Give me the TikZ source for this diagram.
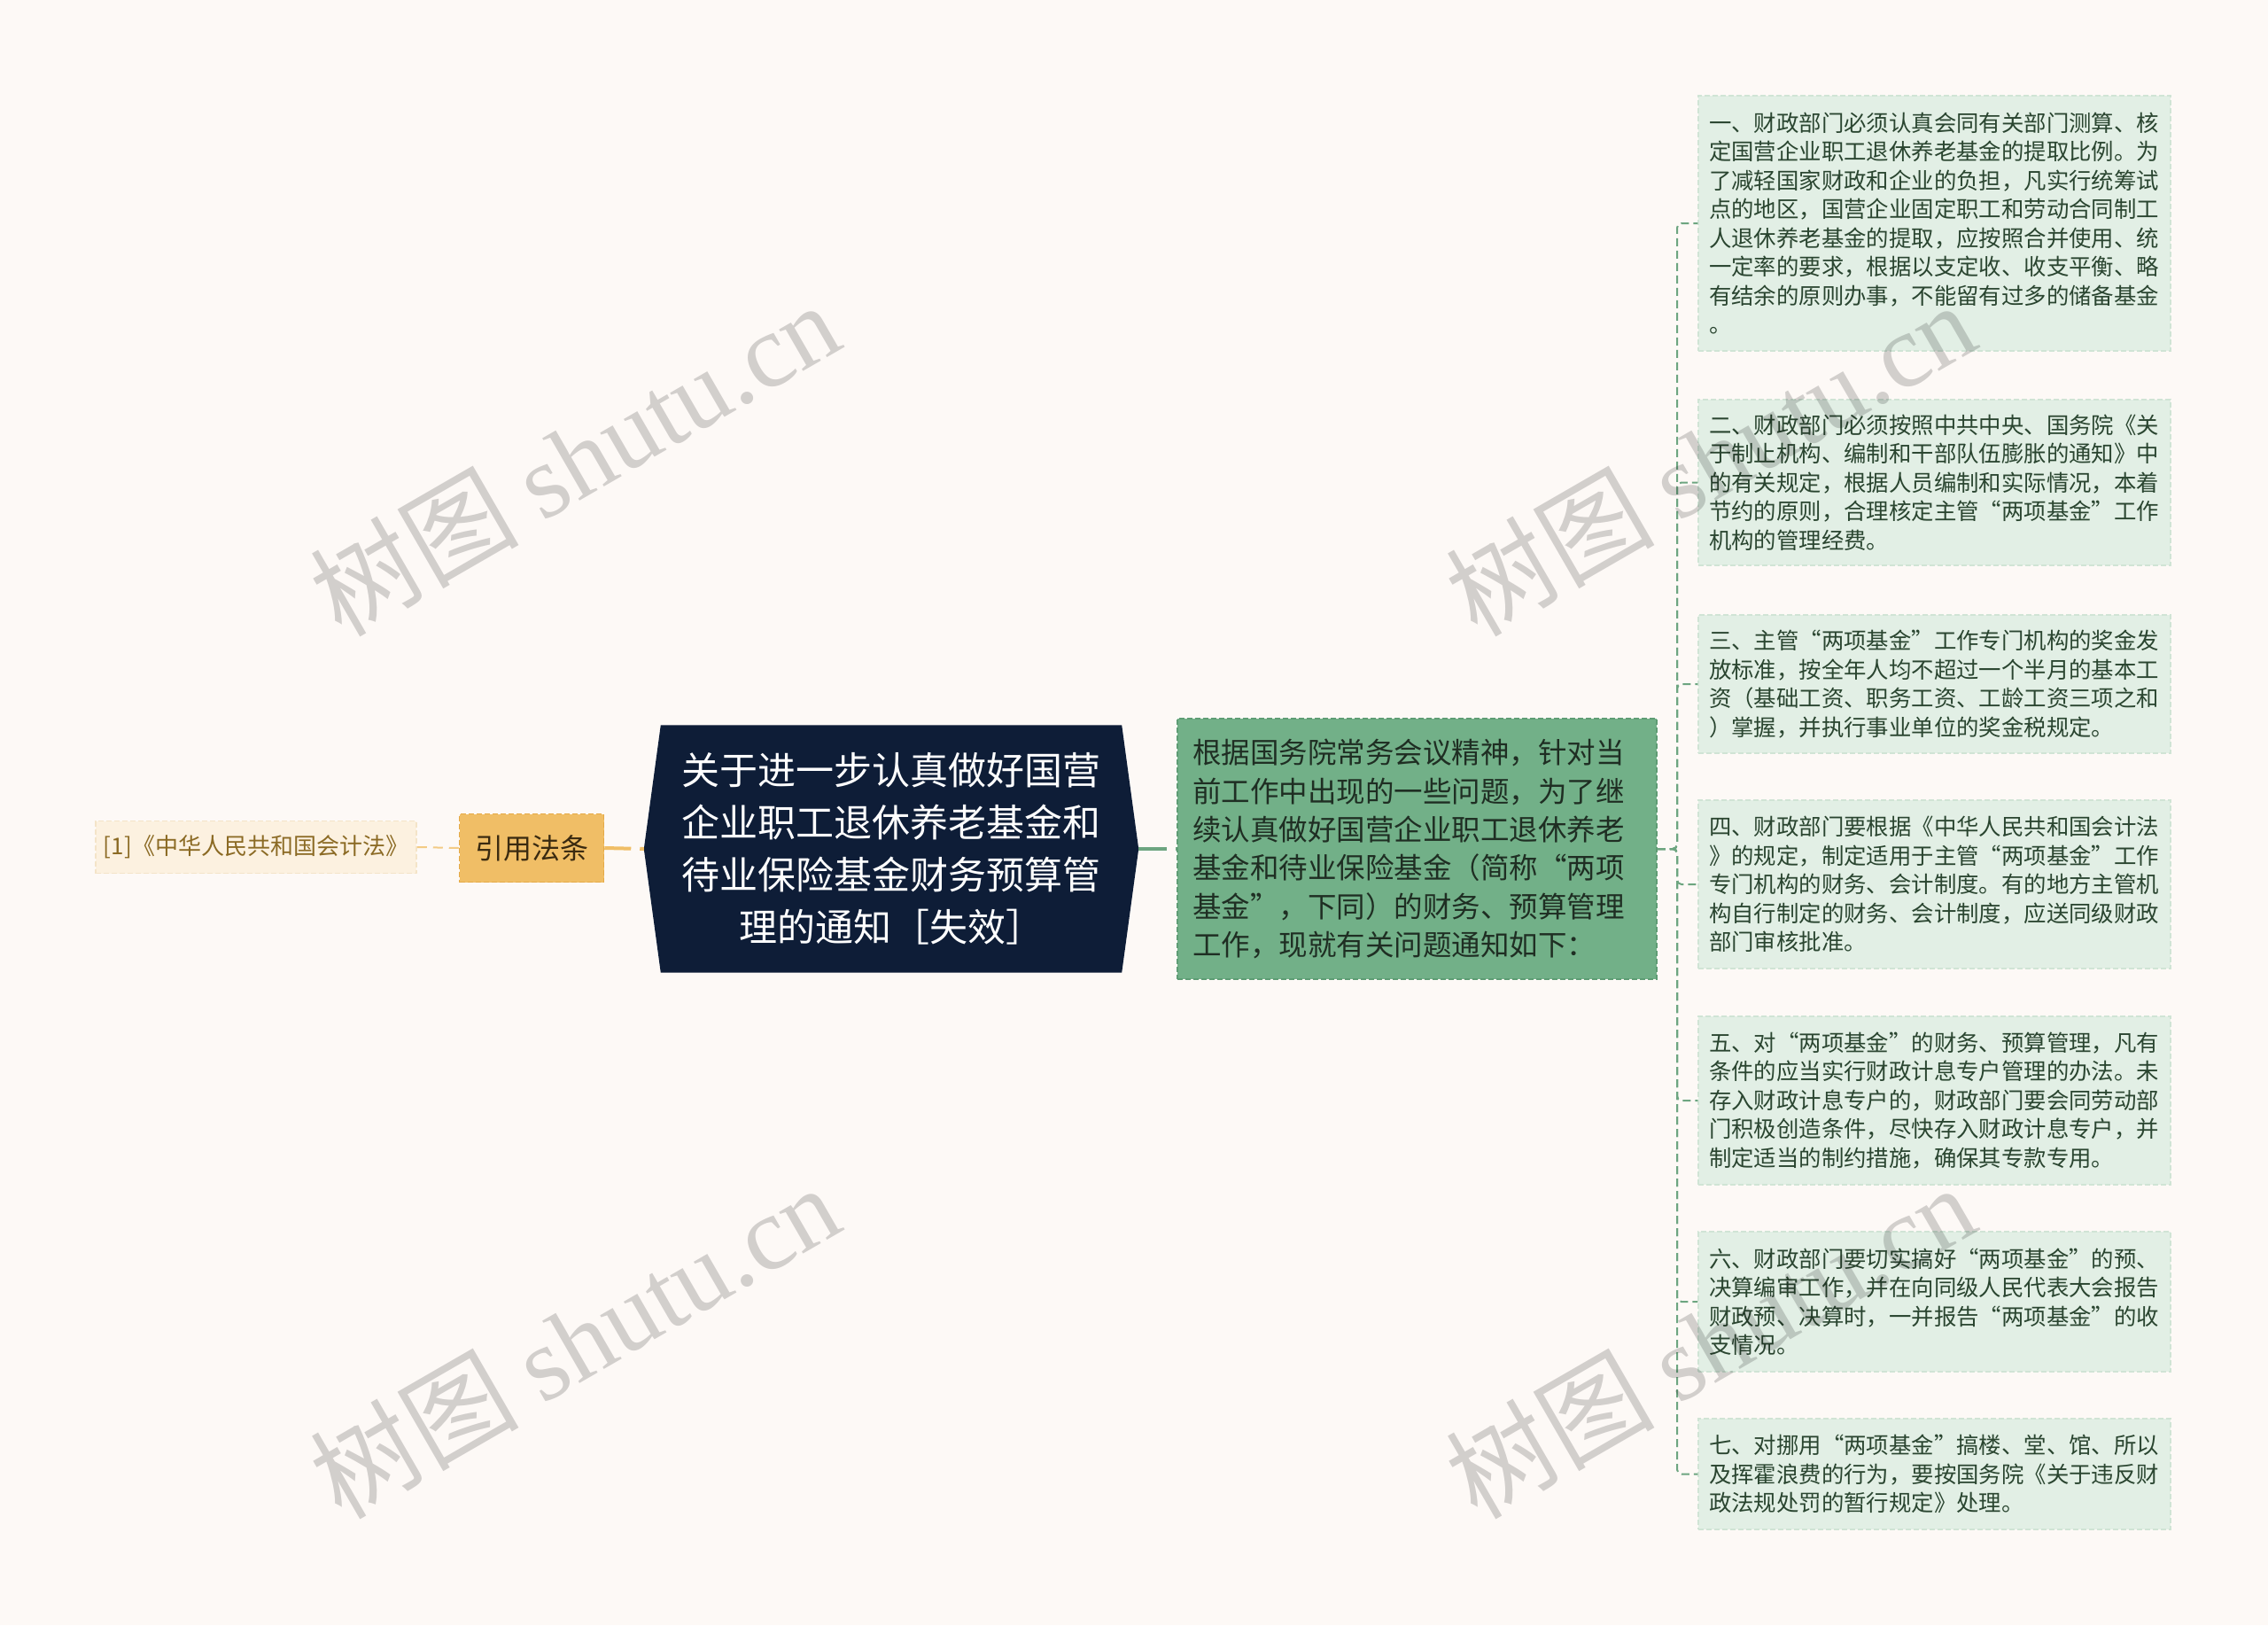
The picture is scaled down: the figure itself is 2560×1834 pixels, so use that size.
\documentclass[tikz,border=0pt]{standalone}
\usepackage{fontspec}
\setmainfont{Noto Sans CJK SC}
\newfontfamily\wmserif{Liberation Serif}
\usepackage{tikz}
\usetikzlibrary{calc,backgrounds}

\definecolor{bgc}{HTML}{FDF9F6}
\definecolor{navy}{HTML}{0E1D37}
\definecolor{citefill}{HTML}{FCF1E0}
\definecolor{citeedge}{HTML}{F4E4C8}
\definecolor{citetext}{HTML}{8B6A24}
\definecolor{lawfill}{HTML}{F0BE66}
\definecolor{lawedge}{HTML}{E5AA48}
\definecolor{lawtext}{HTML}{3A2A10}
\definecolor{sumfill}{HTML}{72B088}
\definecolor{sumedge}{HTML}{5E9C74}
\definecolor{sumtext}{HTML}{1F2E23}
\definecolor{leaffill}{HTML}{E2EFE5}
\definecolor{leafedge}{HTML}{D0E4D5}
\definecolor{leaftext}{HTML}{2A4530}
\definecolor{twigcol}{HTML}{6DA580}

\begin{document}
\begin{tikzpicture}[x=1bp,y=-1bp,
  citebox/.style={draw=citeedge,dash pattern=on 6bp off 3bp,line width=1.5bp,fill=citefill,text=citetext,minimum width=362bp,minimum height=59bp,inner sep=0pt,font=\fontsize{26bp}{30bp}\selectfont},
  lawbox/.style={draw=lawedge,dash pattern=on 6bp off 3bp,line width=1.5bp,fill=lawfill,text=lawtext,minimum width=163bp,minimum height=77bp,inner sep=0pt,font=\fontsize{32bp}{38bp}\selectfont},
  rootbox/.style={text=white,align=center,minimum width=520bp,minimum height=279bp,inner sep=0pt,font=\fontsize{43bp}{59bp}\selectfont},
  sumbox/.style={draw=sumedge,dash pattern=on 6bp off 3bp,line width=1.5bp,fill=sumfill,text=sumtext,align=left,text width=507bp,inner xsep=17bp,inner ysep=0pt,minimum height=294bp,font=\fontsize{32.5bp}{43.3bp}\selectfont},
  leaf/.style={draw=leafedge,dash pattern=on 6bp off 3bp,line width=1.5bp,fill=leaffill,text=leaftext,align=left,text width=509bp,inner xsep=12bp,inner ysep=0pt,font=\fontsize{25.4bp}{32.5bp}\selectfont},
  twig/.style={draw=twigcol,line width=2bp,dash pattern=on 9bp off 5bp,rounded corners=5bp},
  wm/.style={text=black,text opacity=0.17,rotate=30,inner sep=0pt,font=\fontsize{118bp}{118bp}\selectfont}]

\begin{scope}[on background layer]
\fill[bgc] (0,0) rectangle (2560,1834);
\end{scope}
\useasboundingbox (0,0) rectangle (2560,1834);

\node[citebox] (C1) at (289,956) {[1]《中华人民共和国会计法》};
\node[lawbox] (C2) at (600,957) {引用法条};
\node[rootbox] (M) at (1006,958) {关于进一步认真做好国营\\企业职工退休养老基金和\\待业保险基金财务预算管\\理的通知［失效］};
\coordinate (Mw) at ($(M.west)+(-19,0)$);
\coordinate (Me) at ($(M.east)+(19,0)$);
\begin{scope}[on background layer]
\fill[navy] (M.north west) -- (M.north east) -- (Me) -- (M.south east) -- (M.south west) -- (Mw) -- cycle;
\end{scope}

\node[sumbox] (S) at (1599.5,958) {根据国务院常务会议精神，针对当\\前工作中出现的一些问题，为了继\\续认真做好国营企业职工退休养老\\基金和待业保险基金（简称“两项\\基金”，下同）的财务、预算管理\\工作，现就有关问题通知如下：};

\node[leaf,minimum height=288bp] (P1) at (2183.5,252) {一、财政部门必须认真会同有关部门测算、核\\定国营企业职工退休养老基金的提取比例。为\\了减轻国家财政和企业的负担，凡实行统筹试\\点的地区，国营企业固定职工和劳动合同制工\\人退休养老基金的提取，应按照合并使用、统\\一定率的要求，根据以支定收、收支平衡、略\\有结余的原则办事，不能留有过多的储备基金\\。};
\node[leaf,minimum height=187bp] (P2) at (2183.5,544.5) {二、财政部门必须按照中共中央、国务院《关\\于制止机构、编制和干部队伍膨胀的通知》中\\的有关规定，根据人员编制和实际情况，本着\\节约的原则，合理核定主管“两项基金”工作\\机构的管理经费。};
\node[leaf,minimum height=156bp] (P3) at (2183.5,772) {三、主管“两项基金”工作专门机构的奖金发\\放标准，按全年人均不超过一个半月的基本工\\资（基础工资、职务工资、工龄工资三项之和\\）掌握，并执行事业单位的奖金税规定。};
\node[leaf,minimum height=190bp] (P4) at (2183.5,998) {四、财政部门要根据《中华人民共和国会计法\\》的规定，制定适用于主管“两项基金”工作\\专门机构的财务、会计制度。有的地方主管机\\构自行制定的财务、会计制度，应送同级财政\\部门审核批准。};
\node[leaf,minimum height=190bp] (P5) at (2183.5,1242) {五、对“两项基金”的财务、预算管理，凡有\\条件的应当实行财政计息专户管理的办法。未\\存入财政计息专户的，财政部门要会同劳动部\\门积极创造条件，尽快存入财政计息专户，并\\制定适当的制约措施，确保其专款专用。};
\node[leaf,minimum height=158bp] (P6) at (2183.5,1469) {六、财政部门要切实搞好“两项基金”的预、\\决算编审工作，并在向同级人民代表大会报告\\财政预、决算时，一并报告“两项基金”的收\\支情况。};
\node[leaf,minimum height=125bp] (P7) at (2183.5,1663.5) {七、对挪用“两项基金”搞楼、堂、馆、所以\\及挥霍浪费的行为，要按国务院《关于违反财\\政法规处罚的暂行规定》处理。};

\draw[draw=lawfill!80!white,line width=2bp,dash pattern=on 11bp off 7bp] (C2.west) -- (C1.east);
\draw[draw=lawfill,line width=4bp,dash pattern=on 30bp off 10bp] (C2.east) -- (Mw);
\draw[draw=twigcol,line width=4bp,dash pattern=on 32bp off 10bp] (Me) -- (S.west);

\coordinate (T) at (1893,958);
\foreach \i in {1,...,7}
  \draw[twig] (S.east) -- (T) |- (P\i.west);

\node[wm] (W1) at (648,517) {树图 {\wmserif shutu.cn}};
\node[wm] (W2) at (1930,517) {树图 {\wmserif shutu.cn}};
\node[wm] (W3) at (648,1513) {树图 {\wmserif shutu.cn}};
\node[wm] (W4) at (1930,1513) {树图 {\wmserif shutu.cn}};
\end{tikzpicture}
\end{document}
